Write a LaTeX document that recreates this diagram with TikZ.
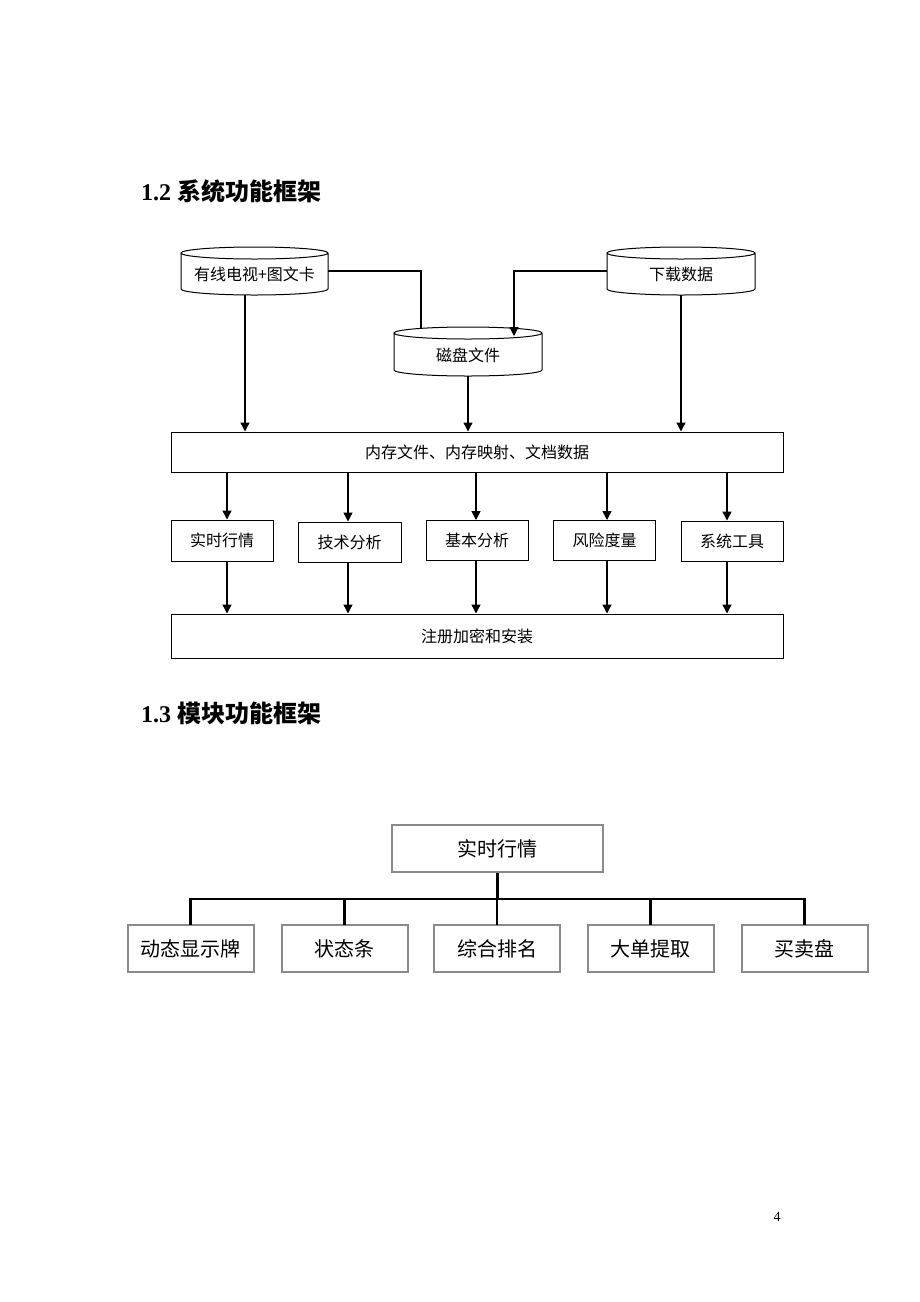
\documentclass[tikz,border=0pt]{standalone}
\usepackage{fontspec}
\setmainfont{Liberation Serif}
\newfontfamily\cjk{Noto Sans CJK SC}
\usetikzlibrary{arrows.meta,calc}
\definecolor{orggray}{HTML}{8A8A8A}
\newcommand\dbcyl[6]{%
  \draw[cylline] (#2,#3+6) -- (#2,#5-6)
    arc[start angle=180,end angle=360,x radius={(#4-#2)/2*1pt},y radius=6pt]
    -- (#4,#3+6)
    arc[start angle=0,end angle=180,x radius={(#4-#2)/2*1pt},y radius=6pt]
    arc[start angle=180,end angle=360,x radius={(#4-#2)/2*1pt},y radius=6pt];
  \node[cylnode,minimum width={#4-#2},minimum height={#5-#3}] (#1) at ({(#2+#4)/2},{(#3+#5)/2}) {\raisebox{-9.5pt}[0pt][0pt]{#6}};
}
\begin{document}
\begin{tikzpicture}[x=1pt,y=-1pt,
  cylline/.style={line width=1pt,fill=white},
  arr/.style={line width=1.3pt,-{Triangle[length=9pt,width=9pt]}},
  box/.style={draw,line width=1pt,fill=white,inner sep=0pt,font=\cjk\fontsize{16}{16}\selectfont},
  cylnode/.style={inner sep=0pt,font=\cjk\fontsize{16}{16}\selectfont},
  org/.style={draw=orggray,line width=2pt,fill=white,inner sep=0pt,minimum width=126pt,minimum height=47pt,font=\cjk\fontsize{20}{20}\selectfont},
  orgline/.style={line width=2.5pt},
  head/.style={anchor=base west,inner sep=0pt,font=\fontsize{24}{24}\selectfont\bfseries},
  pagenum/.style={anchor=base,inner sep=0pt,font=\fontsize{14}{14}\selectfont}
]
\useasboundingbox[fill=white] (0,0) rectangle (920,1302);

% ---------- headings ----------
\node[head] (h12) at (141,200) {1.2 {\cjk 系统功能框架}};
\node[head] (h13) at (141,722) {1.3 {\cjk 模块功能框架}};

% ---------- 1.2 diagram ----------
\dbcyl{c1}{181}{247}{328}{295}{有线电视+图文卡}
\dbcyl{c3}{607}{247}{755}{295}{下载数据}
\coordinate (d1) at (421,337);
\draw[arr] (c1.east) -| (d1);
\dbcyl{disk}{394}{327}{542}{376}{磁盘文件}
\coordinate (d2) at (514,336);
\draw[arr] (c3.west) -| (d2);

\node[box,minimum width=612pt,minimum height=40pt] (mem) at (477,452) {内存文件、内存映射、文档数据};

\coordinate (e1) at ([xshift=-9.5pt]c1.south);
\draw[arr] (e1) -- (e1 |- mem.north);
\draw[arr] (disk.south) -- (disk.south |- mem.north);
\draw[arr] (c3.south) -- (c3.south |- mem.north);

\node[box,minimum width=102pt,minimum height=41pt] (b1) at (222,540.5) {实时行情};
\node[box,minimum width=103pt,minimum height=40pt] (b2) at (349.5,542) {技术分析};
\node[box,minimum width=102pt,minimum height=40pt] (b3) at (477,540.5) {基本分析};
\node[box,minimum width=102pt,minimum height=40pt] (b4) at (604.5,540.5) {风险度量};
\node[box,minimum width=102pt,minimum height=40pt] (b5) at (732,541) {系统工具};

\node[box,minimum width=612pt,minimum height=44pt] (reg) at (477,636) {注册加密和安装};

\coordinate (a1) at ([xshift=5pt]b1.north);
\coordinate (a2) at ([xshift=-1.5pt]b2.north);
\coordinate (a3) at ([xshift=-1pt]b3.north);
\coordinate (a4) at ([xshift=2.5pt]b4.north);
\coordinate (a5) at ([xshift=-5pt]b5.north);
\foreach \a/\b in {a1/b1,a2/b2,a3/b3,a4/b4,a5/b5}{
  \draw[arr] (\a |- mem.south) -- (\a);
  \draw[arr] (\a |- \b.south) -- (\a |- reg.north);
}

% ---------- 1.3 org chart ----------
\coordinate (bus) at (497,899);
\node[org,minimum width=211pt] (top) at (497.5,848.5) {实时行情};
\node[org] (o1) at (190.5,948.5) {动态显示牌};
\node[org] (o2) at (344.5,948.5) {状态条};
\node[org] (o3) at (497,948.5) {综合排名};
\node[org] (o4) at (650.5,948.5) {大单提取};
\node[org] (o5) at (804.5,948.5) {买卖盘};
\draw[orgline] (top.south) -- (top.south |- bus);
\draw[orgline,line cap=rect] (o1.north |- bus) -- (o5.north |- bus);
\foreach \o in {o1,o2,o3,o4,o5}{
  \draw[orgline] (\o.north |- bus) -- ([yshift=-1pt]\o.north);
}

% ---------- page number ----------
\node[pagenum] (pg) at (777,1221) {4};
\end{tikzpicture}
\end{document}
